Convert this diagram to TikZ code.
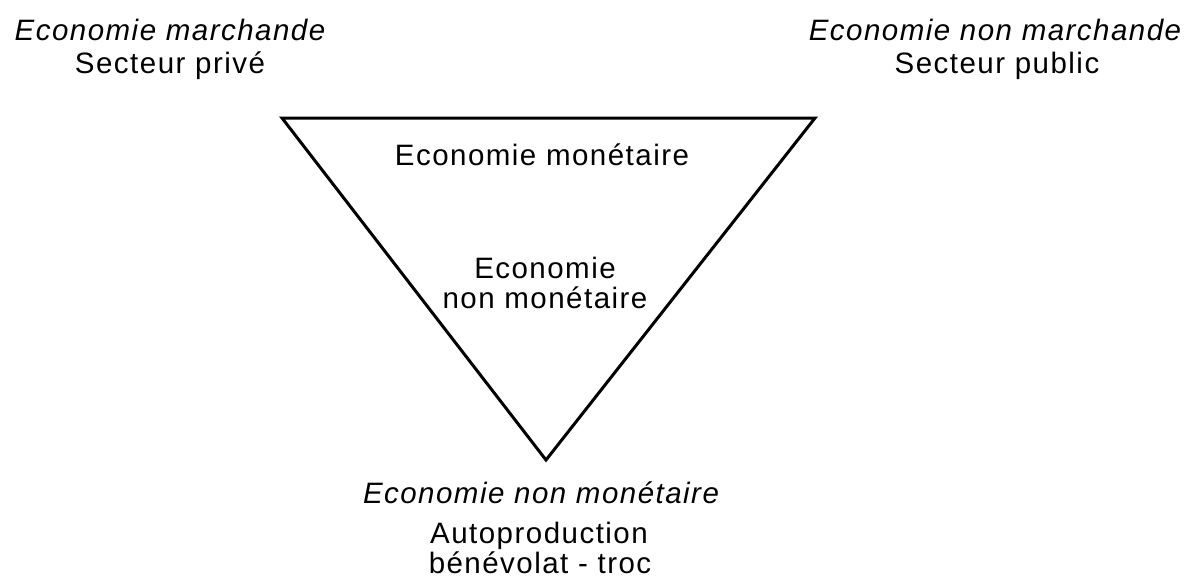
\documentclass[tikz,border=0pt]{standalone}
\usepackage{fontspec}
\setmainfont{Liberation Sans}[LetterSpace=5]
\begin{document}
\begin{tikzpicture}[x=1pt,y=-1pt,
  lbl/.style={anchor=base,inner sep=0pt,font=\fontsize{29.5}{30}\selectfont},
  ilbl/.style={lbl,font=\fontsize{29.5}{30}\selectfont\itshape}]
\useasboundingbox (0,0) rectangle (1197,578);
% inverted triangle
\coordinate (tl) at (282,118);
\coordinate (tr) at (815,118);
\coordinate (bt) at (546,460);
\draw[line width=3pt,line join=miter] (tl) -- (tr) -- (bt) -- cycle;
% corner captions
\node[ilbl] (mkt) at (170,41) {Economie marchande};
\node[lbl] (priv) at (170,74) {Secteur privé};
\node[ilbl] (nmkt) at (995,41) {Economie non marchande};
\node[lbl] (pub) at (997,74) {Secteur public};
% inside the triangle
\node[lbl] (mon) at (542,165) {Economie monétaire};
\node[lbl] (nmon1) at (545,278) {Economie};
\node[lbl] (nmon2) at (545,308) {non monétaire};
% below the apex
\node[ilbl] (nmonb) at (541,503) {Economie non monétaire};
\node[lbl] (auto) at (539,543) {Autoproduction};
\node[lbl] (benev) at (540,573) {bénévolat - troc};
\end{tikzpicture}
\end{document}
